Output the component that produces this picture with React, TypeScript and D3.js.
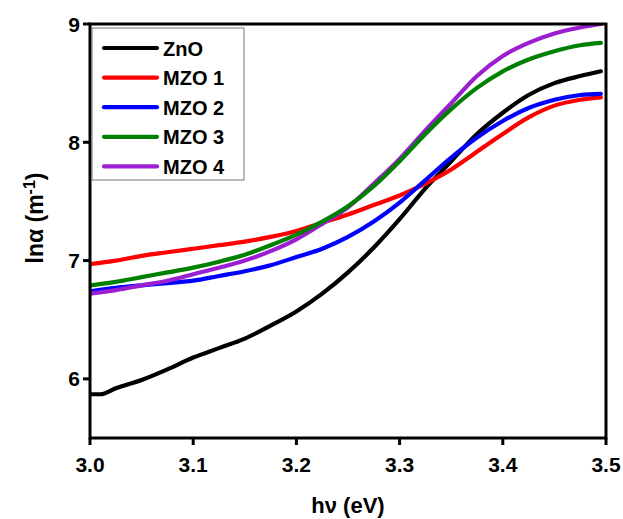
import React from 'react';
import * as d3 from 'd3';

// photon energy (eV) / ln(alpha) pairs
const zno: [number, number][] = [
  [3.0, 5.87], [3.01, 5.87], [3.025, 5.92], [3.05, 5.99], [3.075, 6.08], [3.1, 6.18],
  [3.125, 6.26], [3.15, 6.34], [3.175, 6.45], [3.2, 6.57], [3.225, 6.72], [3.25, 6.9],
  [3.275, 7.11], [3.3, 7.35], [3.325, 7.61], [3.35, 7.84], [3.375, 8.07], [3.4, 8.25],
  [3.425, 8.4], [3.45, 8.5], [3.475, 8.56], [3.495, 8.6],
];
const mzo1: [number, number][] = [
  [3.0, 6.97], [3.025, 7.0], [3.05, 7.04], [3.075, 7.07], [3.1, 7.1], [3.125, 7.13],
  [3.15, 7.16], [3.175, 7.2], [3.2, 7.25], [3.225, 7.32], [3.25, 7.39], [3.275, 7.47],
  [3.3, 7.55], [3.325, 7.65], [3.35, 7.77], [3.375, 7.92], [3.4, 8.07], [3.425, 8.21],
  [3.45, 8.31], [3.475, 8.36], [3.495, 8.38],
];
const mzo2: [number, number][] = [
  [3.0, 6.74], [3.025, 6.77], [3.05, 6.79], [3.075, 6.81], [3.1, 6.83], [3.125, 6.87],
  [3.15, 6.91], [3.175, 6.96], [3.2, 7.03], [3.225, 7.1], [3.25, 7.2], [3.275, 7.33],
  [3.3, 7.49], [3.325, 7.68], [3.35, 7.87], [3.375, 8.04], [3.4, 8.18], [3.425, 8.29],
  [3.45, 8.36], [3.475, 8.4], [3.495, 8.41],
];
const mzo3: [number, number][] = [
  [3.0, 6.79], [3.025, 6.82], [3.05, 6.86], [3.075, 6.9], [3.1, 6.94], [3.125, 6.99],
  [3.15, 7.05], [3.175, 7.13], [3.2, 7.22], [3.225, 7.33], [3.25, 7.46], [3.275, 7.63],
  [3.3, 7.84], [3.325, 8.07], [3.35, 8.28], [3.375, 8.46], [3.4, 8.6], [3.425, 8.7],
  [3.45, 8.77], [3.475, 8.82], [3.495, 8.84],
];
const mzo4: [number, number][] = [
  [3.0, 6.72], [3.025, 6.75], [3.05, 6.79], [3.075, 6.83], [3.1, 6.885], [3.125, 6.94],
  [3.15, 7.0], [3.175, 7.08], [3.2, 7.18], [3.225, 7.31], [3.25, 7.45], [3.275, 7.65],
  [3.3, 7.86], [3.325, 8.1], [3.35, 8.33], [3.375, 8.56], [3.4, 8.73], [3.425, 8.84],
  [3.45, 8.92], [3.475, 8.97], [3.495, 9.0],
];

const seriesNames = ['ZnO', 'MZO 1', 'MZO 2', 'MZO 3', 'MZO 4'];
const seriesData = [zno, mzo1, mzo2, mzo3, mzo4];
const seriesColors = ['#000000', '#ff0000', '#0000ff', '#008000', '#9b1fd0'];

const xTicks = [3.0, 3.1, 3.2, 3.3, 3.4, 3.5];
const yTicks = [6, 7, 8, 9];

const font = '"Liberation Sans", Arial, sans-serif';

export default function App() {
  const width = 623;
  const height = 519;
  const left = 90, right = 606, top = 24, bottom = 438;

  const x = d3.scaleLinear().domain([3.0, 3.5]).range([left, right]);
  const y = d3.scaleLinear().domain([5.5, 9]).range([bottom, top]);

  const line = d3.line<[number, number]>()
    .x(d => x(d[0]))
    .y(d => y(d[1]))
    .curve(d3.curveMonotoneX);

  // draw order: purple under green like the source
  const order = [0, 1, 2, 4, 3];

  return (
    <svg width={width} height={height} style={{ position: 'absolute', left: 0, top: 0, background: '#fff' }}
      fontFamily={font} fontWeight="bold">
      <defs>
        <clipPath id="plot">
          <rect x={left} y={top} width={right - left} height={bottom - top} />
        </clipPath>
      </defs>

      <g clipPath="url(#plot)">
        {order.map(i => (
          <path key={i} d={line(seriesData[i]) || ''} fill="none" stroke={seriesColors[i]}
            strokeWidth={4.2} strokeLinejoin="round" strokeLinecap="round" />
        ))}
      </g>

      {/* frame */}
      <rect x={left} y={top} width={right - left} height={bottom - top} fill="none" stroke="#000" strokeWidth={3} />

      {/* x ticks */}
      {xTicks.map(t => (
        <g key={t}>
          <line x1={x(t)} x2={x(t)} y1={bottom} y2={bottom + 7} stroke="#000" strokeWidth={3} />
          <text x={x(t)} y={472} textAnchor="middle" fontSize={21}>{d3.format('.1f')(t)}</text>
        </g>
      ))}

      {/* y ticks */}
      {yTicks.map(t => (
        <g key={t}>
          <line x1={left - 7} x2={left} y1={y(t)} y2={y(t)} stroke="#000" strokeWidth={3} />
          <text x={left - 10} y={y(t) + 7.5} textAnchor="end" fontSize={21}>{t}</text>
        </g>
      ))}

      {/* axis titles */}
      <text x={(left + right) / 2} y={513} textAnchor="middle" fontSize={22}>hν (eV)</text>
      <text transform="translate(43,218) rotate(-90)" textAnchor="middle" fontSize={23}>
        lnα (m<tspan dy={-8} fontSize={16}>-1</tspan><tspan dy={8}>)</tspan>
      </text>

      {/* legend */}
      <rect x={92} y={28} width={152} height={152} fill="#fff" stroke="#777" strokeWidth={1} />
      {seriesNames.map((name, i) => {
        const cy = 48 + i * 29.6;
        return (
          <g key={name}>
            <line x1={104} x2={157} y1={cy} y2={cy} stroke={seriesColors[i]} strokeWidth={4.2} strokeLinecap="round" />
            <text x={163} y={cy + 7.5} fontSize={20}>{name}</text>
          </g>
        );
      })}
    </svg>
  );
}
